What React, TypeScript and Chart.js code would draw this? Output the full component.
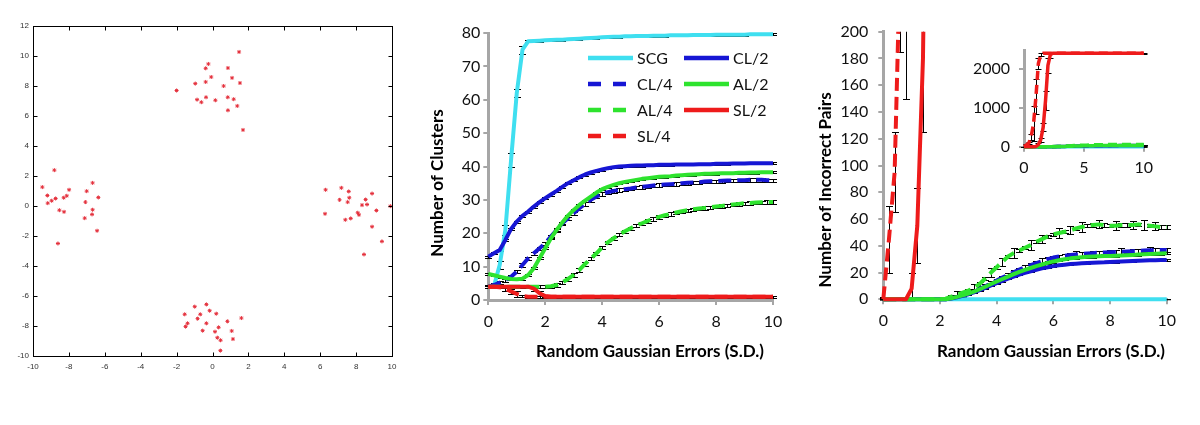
import React, { useEffect, useRef } from 'react';
import { Chart, registerables } from 'chart.js';

Chart.register(...registerables);

// ---------------- data: scatter panel (four clusters of 20 points) ----------------
const CLUSTER_N: [number, number][] = [
  [-2.0, 7.7], [-0.96, 8.16], [-0.86, 7.09], [-0.62, 6.92], [-0.38, 8.27], [-0.38, 9.18], [-0.23, 9.47],
  [-0.36, 7.25], [-0.07, 8.6], [0.16, 7.05], [0.62, 8.0], [0.86, 9.2], [1.48, 10.27], [1.09, 8.54],
  [1.53, 8.2], [0.85, 7.25], [1.18, 7.12], [0.86, 6.38], [1.38, 6.67], [1.7, 5.07],
];
const CLUSTER_W: [number, number][] = [
  [-9.48, 1.26], [-9.2, 0.7], [-9.18, 0.19], [-8.96, 0.35], [-8.81, 2.39], [-8.74, 0.5], [-8.53, -0.28],
  [-8.61, -2.5], [-8.27, -0.39], [-8.29, 0.55], [-8.12, 0.68], [-7.99, 1.08], [-7.12, -0.81], [-7.08, 0.26],
  [-7.01, 0.99], [-6.68, 1.54], [-6.68, -0.25], [-6.71, -0.56], [-6.36, 0.57], [-6.43, -1.65],
];
const CLUSTER_E: [number, number][] = [
  [6.3, 1.08], [6.27, -0.52], [7.18, 1.21], [7.59, 0.97], [7.08, 0.41], [7.62, 0.55], [7.53, 0.26],
  [7.4, -0.92], [7.7, -0.83], [8.33, 0.06], [8.09, -0.45], [8.16, -0.59], [8.53, 0.43], [8.61, 0.1],
  [8.89, 0.83], [9.13, -0.3], [8.89, -1.38], [9.44, -2.36], [8.44, -3.23], [9.91, -0.01],
];
const CLUSTER_S: [number, number][] = [
  [-0.99, -6.71], [-0.34, -6.56], [-1.55, -7.22], [-0.16, -6.98], [-0.68, -7.22], [0.21, -7.18], [-0.83, -7.51],
  [-1.39, -7.82], [-1.5, -8.04], [-0.34, -7.82], [-0.55, -8.31], [0.34, -8.09], [0.14, -8.38], [0.83, -7.69],
  [1.61, -7.47], [1.07, -8.33], [0.27, -8.78], [0.45, -8.95], [1.14, -8.87], [0.44, -9.64],
];

// ---------------- shared x grid: random Gaussian errors (S.D.) ----------------
const X_SD = [
  0, 0.2, 0.4, 0.6, 0.8, 1, 1.2, 1.4, 1.6, 1.8, 2, 2.2, 2.4, 2.6, 2.8, 3, 3.2, 3.4, 3.6, 3.8,
  4, 4.2, 4.4, 4.6, 4.8, 5, 5.2, 5.4, 5.6, 5.8, 6, 6.2, 6.4, 6.6, 6.8, 7, 7.2, 7.4, 7.6, 7.8,
  8, 8.2, 8.4, 8.6, 8.8, 9, 9.2, 9.4, 9.6, 9.8, 10,
];

const SERIES_LABELS = ['SCG', 'CL/2', 'CL/4', 'AL/2', 'AL/4', 'SL/2', 'SL/4'];

// tick values
const SD_TICKS = [0, 2, 4, 6, 8, 10];
const CLUSTER_TICKS = [0, 10, 20, 30, 40, 50, 60, 70, 80];
const PAIR_TICKS = [0, 20, 40, 60, 80, 100, 120, 140, 160, 180, 200];
const INSET_X_TICKS = [0, 5, 10];
const INSET_Y_TICKS = [0, 1000, 2000];
const SCATTER_X_TICKS = [-10, -8, -6, -4, -2, 0, 2, 4, 6, 8, 10];
const SCATTER_Y_TICKS = [-10, -8, -6, -4, -2, 0, 2, 4, 6, 8, 10, 12];

// ---------------- panel 2: number of clusters ----------------
const SCG_CLUSTERS = [4, 4.2, 10.5, 21, 42, 62, 75, 77.5, 77.6, 77.7, 77.8, 77.9, 78, 78, 78.1, 78.2, 78.3, 78.4, 78.5, 78.6,
  78.7, 78.8, 78.9, 78.9, 79, 79, 79.1, 79.1, 79.1, 79.2, 79.2, 79.2, 79.3, 79.3, 79.3, 79.3, 79.4, 79.4, 79.4, 79.4,
  79.5, 79.5, 79.5, 79.5, 79.5, 79.5, 79.6, 79.6, 79.6, 79.6, 79.6];
const CL2_CLUSTERS = [13, 14, 15, 18, 21.3, 23.5, 25.2, 26.5, 28, 29.3, 30.5, 31.6, 32.7, 33.9, 35, 35.9, 36.8, 37.6, 38.2, 38.7,
  39.1, 39.5, 39.8, 40, 40.1, 40.2, 40.3, 40.3, 40.4, 40.4, 40.5, 40.5, 40.5, 40.6, 40.6, 40.6, 40.6, 40.7, 40.7, 40.7,
  40.8, 40.8, 40.8, 40.9, 40.9, 40.9, 41, 41, 41, 41, 41];
const CL4_CLUSTERS = [4, 4.5, 5.2, 6, 7, 8.5, 10.5, 12.5, 14, 15.5, 17, 19, 21, 23, 24.5, 26, 27.5, 28.8, 30, 31,
  31.8, 32.3, 32.7, 33, 33.2, 33.4, 33.7, 33.9, 34.1, 34.3, 34.5, 34.6, 34.7, 34.8, 35, 35.1, 35.2, 35.3, 35.5, 35.6,
  35.6, 35.7, 35.8, 35.8, 35.9, 35.9, 36, 36, 36, 35.9, 35.8];
const AL2_CLUSTERS = [7.8, 7.4, 7, 6.6, 6.3, 6.2, 6.4, 7.5, 9.5, 12.5, 15.5, 18.5, 21, 23.2, 25.3, 27, 28.5, 29.8, 31, 32.2,
  33.2, 33.9, 34.5, 35, 35.4, 35.7, 36, 36.3, 36.5, 36.7, 36.9, 37, 37.1, 37.3, 37.4, 37.5, 37.6, 37.7, 37.8, 37.8,
  37.9, 38, 38, 38, 38.1, 38.1, 38.2, 38.2, 38.3, 38.3, 38.3];
const AL4_CLUSTERS = [4, 4, 4, 4, 4, 4, 4, 4, 4, 4, 4, 4.1, 4.5, 5.3, 6.3, 7.5, 9, 10.8, 12.4, 14,
  15.8, 17.3, 18.5, 19.6, 20.6, 21.5, 22.3, 23, 23.7, 24.3, 24.9, 25.4, 25.8, 26.2, 26.6, 26.9, 27.2, 27.4, 27.6, 27.8,
  28, 28.2, 28.4, 28.6, 28.8, 29, 29.1, 29.2, 29.3, 29.4, 29.4];
const SL2_CLUSTERS = [4, 4, 4, 4, 4, 4, 4, 4, 3.4, 2, 1.2, 1, 1, 1, 1, 1, 1, 1, 1, 1,
  1, 1, 1, 1, 1, 1, 1, 1, 1, 1, 1, 1, 1, 1, 1, 1, 1, 1, 1, 1,
  1, 1, 1, 1, 1, 1, 1, 1, 1, 1, 1];
const SL4_CLUSTERS = [4, 4, 3.8, 3.4, 2.6, 1.8, 1.2, 1, 1, 1, 1, 1, 1, 1, 1, 1, 1, 1, 1, 1,
  1, 1, 1, 1, 1, 1, 1, 1, 1, 1, 1, 1, 1, 1, 1, 1, 1, 1, 1, 1,
  1, 1, 1, 1, 1, 1, 1, 1, 1, 1, 1];

// error bars (S.D.), panel 2: typical value per series plus readable exceptions [x, err]
const CLUSTER_ERR_TYPICAL = [0.3, 0.3, 0.5, 0.3, 0.5, 0.3, 0.3];
const CLUSTER_ERR_EXCEPTIONS: [number, number][][] = [
  [[0.4, 1.2], [0.6, 1.5], [0.8, 2], [1, 1.2], [1.2, 1.2]],
  [],
  [],
  [],
  [],
  [[1.6, 0.8], [1.8, 0.8]],
  [[0.6, 0.8], [0.8, 0.8], [1, 0.8]],
];

// ---------------- panel 3: number of incorrect pairs ----------------
const SCG_PAIRS = [0, 0, 0, 0, 0, 0, 0, 0, 0, 0, 0, 0, 0, 0, 0, 0, 0, 0, 0, 0,
  0, 0, 0, 0, 0, 0, 0, 0, 0, 0, 0, 0, 0, 0, 0, 0, 0, 0, 0, 0,
  0, 0, 0, 0, 0, 0, 0, 0, 0, 0, 0];
const CL2_PAIRS = [0, 0, 0, 0, 0, 0, 0, 0, 0, 0, 0, 0, 0.6, 1.5, 2.6, 3.8, 5.2, 6.8, 8.5, 10.3,
  12, 13.8, 15.4, 17, 18.5, 19.8, 21, 22.1, 23.1, 24, 24.8, 25.4, 25.9, 26.3, 26.6, 26.9, 27.1, 27.3, 27.5, 27.6,
  27.8, 28, 28.2, 28.4, 28.6, 28.8, 29, 29.1, 29.2, 29.3, 29.4];
const CL4_PAIRS = [0, 0, 0, 0, 0, 0, 0, 0, 0, 0, 0, 0, 1, 2, 3.2, 4.5, 6, 7.8, 9.8, 12,
  14, 16.2, 18.2, 20.2, 22.2, 24, 25.5, 27, 28.5, 30, 31.2, 32, 32.6, 33.1, 33.5, 33.9, 34.2, 34.5, 34.8, 35,
  35.2, 35.4, 35.6, 35.8, 36, 36.2, 36.4, 36.6, 36.8, 36.8, 36.8];
const AL2_PAIRS = [0, 0, 0, 0, 0, 0, 0, 0, 0, 0, 0, 0, 0.8, 1.8, 3, 4.3, 5.8, 7.5, 9.4, 11.4,
  13.3, 15.2, 17, 18.8, 20.5, 22, 23.4, 24.8, 26, 27.2, 28.3, 29.2, 30, 30.6, 31.1, 31.5, 31.8, 32, 32.2, 32.3,
  32.4, 32.6, 32.8, 33, 33.2, 33.4, 33.6, 33.8, 34, 34.2, 34.4];
const AL4_PAIRS = [0, 0, 0, 0, 0, 0, 0, 0, 0, 0, 0, 0.5, 2, 3.5, 5, 6.5, 8.5, 11.5, 15.5, 20,
  24, 28, 32, 34.5, 36.5, 38.5, 40.5, 43, 45, 47, 48.5, 49.5, 50.5, 51.5, 53, 54, 55, 55.5, 56, 55.5,
  55, 55, 55.5, 55.5, 55.5, 56, 55.5, 55, 54.5, 54, 54];
const SL2_PAIRS = [0, 0, 0, 0, 0, 8, 55, 180, 500, 1200, 2100, 2380, 2415, 2415, 2415, 2415, 2415, 2415, 2415, 2415,
  2415, 2415, 2415, 2415, 2415, 2415, 2415, 2415, 2415, 2415, 2415, 2415, 2415, 2415, 2415, 2415, 2415, 2415, 2415, 2415,
  2415, 2415, 2415, 2415, 2415, 2415, 2415, 2415, 2415, 2415, 2415];
const SL4_PAIRS = [0, 45, 95, 260, 600, 1300, 2150, 2380, 2415, 2415, 2415, 2415, 2415, 2415, 2415, 2415, 2415, 2415, 2415, 2415,
  2415, 2415, 2415, 2415, 2415, 2415, 2415, 2415, 2415, 2415, 2415, 2415, 2415, 2415, 2415, 2415, 2415, 2415, 2415, 2415,
  2415, 2415, 2415, 2415, 2415, 2415, 2415, 2415, 2415, 2415, 2415];

const PAIR_ERR_TYPICAL = [0.3, 0.5, 1.4, 0.8, 1.2, 0, 0];
const PAIR_ERR_EXCEPTIONS: [number, number][][] = [
  [],
  [],
  [[5.6, 2.5], [6.8, 2.5], [8.4, 2.5], [9.4, 2.5]],
  [],
  [[0, 0.3], [0.2, 0.3], [0.4, 0.3], [0.6, 0.3], [0.8, 0.3], [1, 0.3], [1.2, 0.3], [1.4, 0.3], [1.6, 0.3], [1.8, 0.3], [2, 0.3],
    [2.6, 2.5], [3.2, 3], [3.8, 3.5], [4.2, 3], [4.6, 3.5], [5.2, 3.5], [5.6, 3], [6.2, 3.5], [6.6, 3], [7, 3.5],
    [7.6, 3], [8.2, 3.5], [8.8, 3], [9.2, 3.5], [9.6, 3]],
  [[1, 12], [1.2, 28], [1.4, 55], [1.6, 100], [1.8, 250], [2, 200], [2.2, 80], [10, 10]],
  [[0.2, 25], [0.4, 30], [0.6, 75], [0.8, 450], [1, 450], [1.2, 150], [1.4, 30]],
];

const SERIES_COLORS = ['#3fdff0', '#1616d4', '#1616d4', '#2ee32e', '#2ee32e', '#ee1b1b', '#ee1b1b'];
const SERIES_DASHED = [false, false, true, false, true, false, true];

const FONT = 'Lato';
const TICK_SIZE = 16;
const TITLE_FONT = `bold 17px ${FONT}`;

// ---------------- helpers ----------------
function errorsFor(typical: number, exceptions: [number, number][]) {
  return X_SD.map((x) => {
    const hit = exceptions.find((e) => Math.abs(e[0] - x) < 1e-6);
    return hit ? hit[1] : typical;
  });
}

function buildLineDatasets(values: number[][], typical: number[], exceptions: [number, number][][], width: number) {
  return values.map((ys, i) => ({
    label: SERIES_LABELS[i],
    data: X_SD.map((x, k) => ({ x, y: ys[k] })),
    borderColor: SERIES_COLORS[i],
    backgroundColor: SERIES_COLORS[i],
    borderWidth: width,
    borderDash: SERIES_DASHED[i] ? [13, 6] : [],
    borderCapStyle: 'butt',
    borderJoinStyle: 'round',
    pointRadius: 0,
    tension: 0,
    fill: false,
    order: values.length - i,
    errors: errorsFor(typical[i], exceptions[i]),
    clip: { left: 4, right: 4, top: 0, bottom: 4 },
  }));
}

function fixedTicks(values: number[]) {
  return (s: any) => {
    s.ticks = values.map((v) => ({ value: v }));
  };
}

// ---------------- plugins ----------------
const errorBarsPlugin = {
  id: 'errorBars',
  beforeDatasetsDraw(chart: any, _a: any, opts: any) {
    if (!opts || !opts.enabled) return;
    const { ctx, chartArea: a } = chart;
    const xs = chart.scales.x;
    const ys = chart.scales.y;
    const cap = opts.cap || 7;
    ctx.save();
    ctx.beginPath();
    ctx.rect(a.left - 6, a.top, a.right - a.left + 12, a.bottom - a.top + 1);
    ctx.clip();
    ctx.strokeStyle = '#000';
    ctx.lineWidth = 1;
    chart.data.datasets.forEach((ds: any, di: number) => {
      if (!chart.isDatasetVisible(di)) return;
      const errs = ds.errors;
      if (!errs) return;
      ds.data.forEach((p: any, i: number) => {
        const e = errs[i];
        if (!e) return;
        const px = Math.round(xs.getPixelForValue(p.x)) + 0.5;
        const y1 = Math.round(ys.getPixelForValue(p.y + e)) + 0.5;
        const y2 = Math.round(ys.getPixelForValue(p.y - e)) + 0.5;
        ctx.beginPath();
        ctx.moveTo(px, y1);
        ctx.lineTo(px, y2);
        ctx.moveTo(px - cap / 2, y1);
        ctx.lineTo(px + cap / 2, y1);
        ctx.moveTo(px - cap / 2, y2);
        ctx.lineTo(px + cap / 2, y2);
        ctx.stroke();
      });
    });
    ctx.restore();
  },
};

const gridLegendPlugin = {
  id: 'gridLegend',
  afterDraw(chart: any, _a: any, opts: any) {
    if (!opts || !opts.items) return;
    const { ctx } = chart;
    opts.items.forEach((it: any) => {
      const ds = chart.data.datasets[it.index];
      ctx.save();
      ctx.strokeStyle = ds.borderColor;
      ctx.lineWidth = 4.5;
      ctx.lineCap = 'butt';
      ctx.setLineDash(SERIES_DASHED[it.index] ? [13, 12] : []);
      ctx.beginPath();
      ctx.moveTo(it.x, it.y);
      ctx.lineTo(it.x + opts.lineLength, it.y);
      ctx.stroke();
      ctx.setLineDash([]);
      ctx.fillStyle = '#111';
      ctx.font = opts.font;
      ctx.textAlign = 'left';
      ctx.textBaseline = 'middle';
      ctx.fillText(ds.label, it.x + opts.lineLength + opts.gap, it.y + 1);
      ctx.restore();
    });
  },
};

const freeTextPlugin = {
  id: 'freeText',
  afterDraw(chart: any, _a: any, opts: any) {
    if (!opts || !opts.texts) return;
    const { ctx } = chart;
    opts.texts.forEach((t: any) => {
      ctx.save();
      ctx.translate(t.x, t.y);
      ctx.rotate(t.rotation || 0);
      ctx.font = t.font;
      ctx.fillStyle = t.color || '#000';
      ctx.textAlign = 'center';
      ctx.textBaseline = 'middle';
      ctx.fillText(t.text, 0, 0);
      ctx.restore();
    });
  },
};

const frameTicksPlugin = {
  id: 'frameTicks',
  afterDraw(chart: any, _a: any, opts: any) {
    if (!opts || !opts.enabled) return;
    const { ctx, chartArea: a, scales } = chart;
    const L = opts.length || 4;
    ctx.save();
    ctx.strokeStyle = '#000';
    ctx.lineWidth = 1;
    const l = Math.round(a.left) + 0.5;
    const r = Math.round(a.right) + 0.5;
    const t = Math.round(a.top) + 0.5;
    const b = Math.round(a.bottom) + 0.5;
    ctx.strokeRect(l, t, r - l, b - t);
    ctx.beginPath();
    scales.x.ticks.forEach((tk: any) => {
      const px = Math.round(scales.x.getPixelForValue(tk.value)) + 0.5;
      ctx.moveTo(px, b);
      ctx.lineTo(px, b - L);
      ctx.moveTo(px, t);
      ctx.lineTo(px, t + L);
    });
    scales.y.ticks.forEach((tk: any) => {
      const py = Math.round(scales.y.getPixelForValue(tk.value)) + 0.5;
      ctx.moveTo(l, py);
      ctx.lineTo(l + L, py);
      ctx.moveTo(r, py);
      ctx.lineTo(r - L, py);
    });
    ctx.stroke();
    ctx.restore();
  },
};

// ---------------- axis helpers ----------------
function excelAxis(min: number, max: number, ticks: number[], isX: boolean, size: number, pad: number, fontSize: number) {
  return {
    type: 'linear',
    min,
    max,
    afterBuildTicks: fixedTicks(ticks),
    afterFit: (s: any) => {
      if (isX) s.height = size;
      else s.width = size;
    },
    ticks: {
      autoSkip: false,
      maxRotation: 0,
      padding: pad,
      color: '#111',
      font: { family: FONT, size: fontSize },
      callback: (v: number) => String(v),
    },
    grid: { drawOnChartArea: false, drawTicks: true, tickLength: 5, color: '#a6a6a6', lineWidth: 2 },
    border: { display: true, color: '#a6a6a6', width: 3 },
  };
}

function useChart(build: () => any) {
  const ref = useRef<HTMLCanvasElement | null>(null);
  useEffect(() => {
    if (!ref.current) return;
    const chart = new Chart(ref.current, build());
    return () => chart.destroy();
  }, []);
  return ref;
}

function Panel({ left, top, width, height, build }: any) {
  const ref = useChart(build);
  return (
    <canvas
      ref={ref}
      width={width}
      height={height}
      style={{ position: 'absolute', left, top, width, height }}
    />
  );
}

// ---------------- chart configs ----------------
function scatterConfig() {
  const mk = (pts: [number, number][]) => pts.map(([x, y]) => ({ x, y }));
  const ds = [CLUSTER_N, CLUSTER_W, CLUSTER_E, CLUSTER_S].map((c, i) => ({
    label: 'cluster ' + (i + 1),
    data: mk(c),
    pointStyle: 'star',
    pointRadius: 2,
    borderWidth: 1,
    borderColor: '#e4303c',
    backgroundColor: '#e4303c',
    clip: false,
  }));
  return {
    type: 'scatter',
    data: { datasets: ds },
    plugins: [frameTicksPlugin],
    options: {
      animation: false,
      responsive: false,
      events: [],
      layout: { padding: { left: 0, right: 18, top: 26, bottom: 0 } },
      plugins: { legend: { display: false }, tooltip: { enabled: false }, frameTicks: { enabled: true, length: 4 } },
      scales: {
        x: {
          type: 'linear', min: -10, max: 10,
          afterBuildTicks: fixedTicks(SCATTER_X_TICKS),
          afterFit: (s: any) => { s.height = 44; },
          ticks: { padding: 6, color: '#333', font: { family: 'Liberation Sans', size: 8 }, maxRotation: 0, autoSkip: false },
          grid: { display: false, drawTicks: false }, border: { display: false },
        },
        y: {
          type: 'linear', min: -10, max: 12,
          afterBuildTicks: fixedTicks(SCATTER_Y_TICKS),
          afterFit: (s: any) => { s.width = 33; },
          ticks: { padding: 4, color: '#333', font: { family: 'Liberation Sans', size: 8 }, autoSkip: false },
          grid: { display: false, drawTicks: false }, border: { display: false },
        },
      },
    },
  };
}

function clustersConfig() {
  const datasets = buildLineDatasets(
    [SCG_CLUSTERS, CL2_CLUSTERS, CL4_CLUSTERS, AL2_CLUSTERS, AL4_CLUSTERS, SL2_CLUSTERS, SL4_CLUSTERS],
    CLUSTER_ERR_TYPICAL, CLUSTER_ERR_EXCEPTIONS, 4,
  ).map((d) => ({ ...d, clip: { left: 4, right: 4, top: 3, bottom: 4 } }));
  return {
    type: 'line',
    data: { datasets },
    plugins: [errorBarsPlugin, gridLegendPlugin, freeTextPlugin],
    options: {
      animation: false,
      responsive: false,
      events: [],
      layout: { padding: { left: 0, right: 27, top: 33, bottom: 0 } },
      plugins: {
        legend: { display: false },
        tooltip: { enabled: false },
        errorBars: { enabled: true, cap: 7 },
        gridLegend: {
          lineLength: 45,
          gap: 4,
          font: `16px ${FONT}`,
          items: [
            { index: 0, x: 168, y: 58 },
            { index: 1, x: 264, y: 58 },
            { index: 2, x: 168, y: 84 },
            { index: 3, x: 264, y: 84 },
            { index: 4, x: 168, y: 110 },
            { index: 5, x: 264, y: 110 },
            { index: 6, x: 168, y: 136 },
          ],
        },
        freeText: {
          texts: [
            { text: 'Number of Clusters', x: 18, y: 183, rotation: -Math.PI / 2, font: TITLE_FONT },
            { text: 'Random Gaussian Errors (S.D.)', x: 230, y: 352, font: TITLE_FONT },
          ],
        },
      },
      scales: {
        x: excelAxis(0, 10, SD_TICKS, true, 80, 7, TICK_SIZE),
        y: excelAxis(0, 80, CLUSTER_TICKS, false, 68.3, 3, TICK_SIZE),
      },
    },
  };
}

function pairsConfig() {
  const datasets = buildLineDatasets(
    [SCG_PAIRS, CL2_PAIRS, CL4_PAIRS, AL2_PAIRS, AL4_PAIRS, SL2_PAIRS, SL4_PAIRS],
    PAIR_ERR_TYPICAL, PAIR_ERR_EXCEPTIONS, 4,
  );
  return {
    type: 'line',
    data: { datasets },
    plugins: [errorBarsPlugin, freeTextPlugin],
    options: {
      animation: false,
      responsive: false,
      events: [],
      layout: { padding: { left: 0, right: 33.3, top: 31.7, bottom: 0 } },
      plugins: {
        legend: { display: false },
        tooltip: { enabled: false },
        errorBars: { enabled: true, cap: 7 },
        freeText: {
          texts: [
            { text: 'Number of Incorrect Pairs', x: 16, y: 190, rotation: -Math.PI / 2, font: TITLE_FONT },
            { text: 'Random Gaussian Errors (S.D.)', x: 241, y: 352, font: TITLE_FONT },
          ],
        },
      },
      scales: {
        x: excelAxis(0, 10, SD_TICKS, true, 80.7, 7, TICK_SIZE),
        y: excelAxis(0, 200, PAIR_TICKS, false, 73.3, 10, TICK_SIZE),
      },
    },
  };
}

function insetConfig() {
  const datasets = buildLineDatasets(
    [SCG_PAIRS, CL2_PAIRS, CL4_PAIRS, AL2_PAIRS, AL4_PAIRS, SL2_PAIRS, SL4_PAIRS],
    PAIR_ERR_TYPICAL, PAIR_ERR_EXCEPTIONS, 3.5,
  ).map((d) => ({ ...d, borderDash: d.borderDash.length ? [9, 5] : [] }));
  return {
    type: 'line',
    data: { datasets },
    plugins: [errorBarsPlugin],
    options: {
      animation: false,
      responsive: false,
      events: [],
      layout: { padding: { left: 0, right: 13.3, top: 20, bottom: 0 } },
      plugins: {
        legend: { display: false },
        tooltip: { enabled: false },
        errorBars: { enabled: true, cap: 6 },
      },
      scales: {
        x: excelAxis(0, 10, INSET_X_TICKS, true, 33.3, 7, TICK_SIZE),
        y: excelAxis(0, 2500, INSET_Y_TICKS, false, 64, 9, TICK_SIZE),
      },
    },
  };
}

export default function App() {
  useEffect(() => {
    document.body.style.margin = '0';
  }, []);
  return (
    <div style={{ position: 'fixed', left: 0, top: 0, width: 1200, height: 425, background: '#fff', overflow: 'hidden' }}>
      <Panel left={0} top={0} width={410} height={400} build={scatterConfig} />
      <Panel left={420} top={0} width={380} height={380} build={clustersConfig} />
      <Panel left={810} top={0} width={390} height={380} build={pairsConfig} />
      <Panel left={960} top={30} width={200} height={150} build={insetConfig} />
    </div>
  );
}
